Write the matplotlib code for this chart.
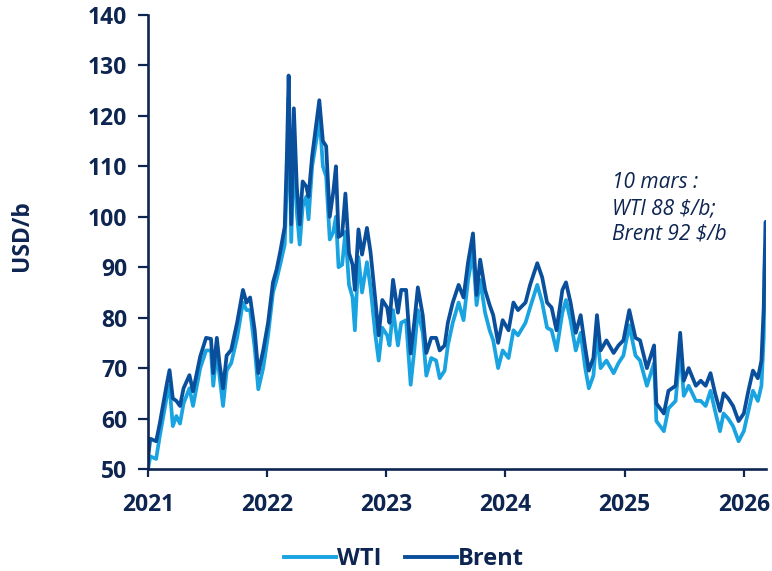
import matplotlib
matplotlib.use("Agg")
import matplotlib.pyplot as plt
import matplotlib.dates as mdates
import pandas as pd

# Oil prices, USD per barrel
dates = [
    "2021-01-01", "2021-01-08", "2021-01-26", "2021-02-06", "2021-02-17", "2021-02-28",
    "2021-03-08", "2021-03-18", "2021-03-29", "2021-04-09", "2021-04-20", "2021-05-08",
    "2021-05-19", "2021-06-10", "2021-06-28", "2021-07-13", "2021-07-20", "2021-07-31",
    "2021-08-08", "2021-08-19", "2021-08-30", "2021-09-13", "2021-10-01", "2021-10-19",
    "2021-10-30", "2021-11-10", "2021-11-24", "2021-12-05", "2021-12-20", "2022-01-04",
    "2022-01-19", "2022-01-30", "2022-02-10", "2022-02-24", "2022-03-03", "2022-03-08",
    "2022-03-16", "2022-03-24", "2022-04-02", "2022-04-11", "2022-04-20", "2022-05-01",
    "2022-05-08", "2022-05-19", "2022-06-03", "2022-06-10", "2022-06-21", "2022-07-01",
    "2022-07-12", "2022-07-23", "2022-07-31", "2022-08-08", "2022-08-19", "2022-08-29",
    "2022-09-09", "2022-09-20", "2022-09-27", "2022-10-08", "2022-10-19", "2022-11-03",
    "2022-11-14", "2022-11-28", "2022-12-09", "2022-12-20", "2023-01-04", "2023-01-11",
    "2023-01-22", "2023-02-06", "2023-02-16", "2023-03-03", "2023-03-17", "2023-03-28",
    "2023-04-08", "2023-04-23", "2023-05-04", "2023-05-19", "2023-06-03", "2023-06-14",
    "2023-06-29", "2023-07-09", "2023-07-24", "2023-08-11", "2023-08-26", "2023-09-09",
    "2023-09-24", "2023-10-05", "2023-10-16", "2023-10-31", "2023-11-14", "2023-11-25",
    "2023-12-10", "2023-12-24", "2024-01-11", "2024-01-26", "2024-02-09", "2024-03-03",
    "2024-03-17", "2024-04-08", "2024-04-23", "2024-05-08", "2024-05-22", "2024-06-06",
    "2024-06-24", "2024-07-05", "2024-07-19", "2024-08-04", "2024-08-19", "2024-09-02",
    "2024-09-13", "2024-09-27", "2024-10-08", "2024-10-19", "2024-11-06", "2024-11-28",
    "2024-12-13", "2024-12-28", "2025-01-15", "2025-02-03", "2025-02-17", "2025-03-10",
    "2025-04-01", "2025-04-08", "2025-05-01", "2025-05-15", "2025-06-06", "2025-06-20",
    "2025-07-01", "2025-07-16", "2025-08-07", "2025-08-22", "2025-09-06", "2025-09-21",
    "2025-10-05", "2025-10-20", "2025-10-31", "2025-11-14", "2025-11-29", "2025-12-16",
    "2026-01-01", "2026-01-15", "2026-01-29", "2026-02-13", "2026-02-24", "2026-03-03",
    "2026-03-06", "2026-03-09", "2026-03-10",
]

brent = [
    52.0, 56.0, 55.5, 59.0, 63.0, 67.0,
    69.6, 64.0, 63.5, 62.5, 66.0, 68.6,
    65.4, 72.3, 76.0, 75.8, 69.0, 76.0,
    71.0, 66.0, 72.5, 73.6, 79.0, 85.5,
    83.0, 84.0, 77.5, 69.0, 73.5, 79.0,
    87.0, 89.5, 93.0, 98.0, 113.0, 128.0,
    98.5, 121.5, 106.0, 98.5, 107.0, 106.0,
    104.0, 112.0, 119.5, 123.1, 115.0, 114.0,
    100.0, 105.0, 110.0, 96.0, 96.5, 104.6,
    92.8, 90.5, 85.5, 97.5, 92.5, 97.8,
    93.0, 84.0, 76.5, 83.5, 82.0, 79.0,
    87.5, 81.0, 85.5, 85.5, 72.9, 79.0,
    86.0, 80.5, 73.0, 76.0, 76.0, 73.5,
    74.5, 79.0, 83.0, 86.5, 84.0, 91.0,
    96.7, 84.5, 91.5, 85.5, 82.5, 80.5,
    75.0, 79.5, 77.5, 83.0, 81.5, 83.0,
    86.5, 90.8, 88.0, 83.0, 82.0, 77.5,
    85.5, 87.0, 83.0, 77.0, 80.5, 74.0,
    69.5, 72.0, 80.5, 73.5, 75.5, 73.0,
    74.5, 75.5, 81.5, 76.0, 75.5, 70.0,
    74.5, 63.0, 61.0, 65.5, 66.5, 77.0,
    67.5, 70.0, 66.5, 67.5, 66.5, 69.0,
    65.0, 61.5, 65.0, 64.0, 62.5, 59.5,
    61.0, 65.5, 69.5, 68.0, 71.5, 82.0,
    92.0, 99.0, 92.0,
]

wti = [
    50.0, 52.5, 52.0, 56.5, 60.5, 64.5,
    66.5, 58.5, 60.5, 59.0, 63.0, 66.0,
    62.5, 70.0, 73.5, 73.5, 66.5, 73.5,
    68.5, 62.5, 69.5, 71.0, 76.0, 83.0,
    81.5, 81.5, 74.0, 65.8, 70.0, 76.5,
    85.0, 87.5, 90.5, 94.5, 108.0, 123.7,
    95.0, 114.5, 101.0, 94.5, 102.0, 104.0,
    99.5, 110.0, 116.0, 120.5, 110.0, 108.0,
    95.5, 97.0, 100.0, 90.0, 90.5, 97.0,
    86.5, 84.0, 77.5, 92.0, 85.0, 91.0,
    86.0, 77.0, 71.5, 78.0, 76.5, 74.5,
    81.5, 74.5, 79.0, 79.5, 66.7, 73.5,
    81.5, 77.0, 68.5, 72.0, 71.5, 68.0,
    69.5, 74.5, 79.0, 83.0, 79.5, 87.5,
    93.0, 82.5, 87.5, 81.0, 77.5, 75.5,
    70.0, 73.5, 72.0, 77.5, 76.5, 79.0,
    82.0, 86.5, 83.0, 78.0, 77.5, 73.5,
    81.0, 83.5, 79.5, 73.5, 77.0, 70.0,
    66.0, 68.5, 77.0, 70.0, 71.5, 69.0,
    71.0, 72.5, 78.5, 72.5, 71.5, 66.5,
    71.0, 59.5, 57.5, 62.0, 63.5, 74.0,
    64.5, 66.5, 63.5, 63.5, 62.5, 65.5,
    61.5, 57.5, 61.0, 60.0, 58.5, 55.5,
    57.5, 61.5, 65.5, 63.5, 66.5, 76.0,
    90.0, 94.0, 88.0,
]

year_ticks = ["2021", "2022", "2023", "2024", "2025", "2026"]
y_ticks = [50, 60, 70, 80, 90, 100, 110, 120, 130, 140]

NAVY = "#0d2550"
LIGHT = "#19a3e0"
DARK = "#0a4f9c"

plt.rcParams["font.family"] = ["Open Sans", "DejaVu Sans"]

x = pd.to_datetime(dates)

fig = plt.figure(figsize=(7.72, 5.71), dpi=100)
ax = fig.add_axes([148 / 772, 1 - 469 / 571, (766 - 148) / 772, (469 - 15) / 571])

ax.plot(x, wti, color=LIGHT, lw=2.7, label="WTI", solid_joinstyle="round")
ax.plot(x, brent, color=DARK, lw=2.7, label="Brent", solid_joinstyle="round")

ax.set_ylim(50, 140)
ax.set_yticks(y_ticks)
ax.set_xlim(pd.Timestamp("2021-01-01"), x[-1])
ax.set_xticks(pd.to_datetime([f"{y}-01-01" for y in year_ticks]))
ax.xaxis.set_major_formatter(mdates.DateFormatter("%Y"))

for side in ("top", "right"):
    ax.spines[side].set_visible(False)
for side in ("left", "bottom"):
    ax.spines[side].set_color(NAVY)
    ax.spines[side].set_linewidth(1.9)

ax.tick_params(axis="y", direction="out", length=7, width=1.6, color=NAVY,
               labelcolor=NAVY, labelsize=16.5, pad=8)
ax.tick_params(axis="x", direction="out", length=6, width=1.6, color=NAVY,
               labelcolor=NAVY, labelsize=16.5, pad=11)
for lab in ax.get_xticklabels() + ax.get_yticklabels():
    lab.set_fontweight("bold")

fig.text(22 / 772, 1 - 236 / 571, "USD/b", rotation=90, ha="center", va="center",
         fontsize=16.5, fontweight="bold", color=NAVY)

fig.text(612 / 772, 1 - 172 / 571, "10 mars :\nWTI 88 $/b;\nBrent 92 $/b",
         ha="left", va="top", fontsize=15, fontstyle="italic", color=NAVY,
         linespacing=1.3)

leg = fig.legend(loc="center", bbox_to_anchor=(404 / 772, 1 - 559 / 571), ncol=2,
                 frameon=False, handlelength=2.2, handletextpad=0.05, columnspacing=1.0,
                 prop={"size": 17, "weight": "bold"})
for t in leg.get_texts():
    t.set_color(NAVY)
for h in leg.get_lines():
    h.set_linewidth(2.8)

fig.savefig("out.png", dpi=100)
